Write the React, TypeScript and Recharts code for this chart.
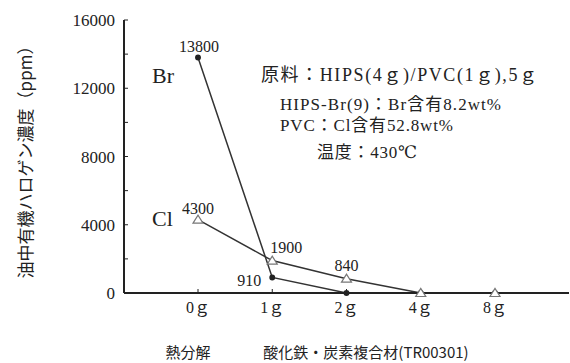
import { LineChart, Line, XAxis, YAxis, LabelList } from "recharts";

const categories = ["0ｇ", "1ｇ", "2ｇ", "4ｇ", "8ｇ"];
const brValues = [13800, 910, 0, 0, 0];
const clValues = [4300, 1900, 840, 0, 0];
const brLabels = ["13800", "910", "", "", ""];
const clLabels = ["4300", "1900", "840", "", ""];
const yTicks = [0, 2000, 4000, 6000, 8000, 10000, 12000, 14000, 16000];
const yLabelTicks = [0, 4000, 8000, 12000, 16000];

const data = categories.map((cat, i) => ({
  cat,
  br: brValues[i],
  cl: clValues[i],
  brLabel: brLabels[i],
  clLabel: clLabels[i],
}));

const SERIF = '"Liberation Serif", "DejaVu Serif", "Noto Sans CJK JP", serif';
const SANS = '"Noto Sans CJK JP", "Noto Sans", sans-serif';
const INK = "#222";

// label nudges relative to the data point
const labelOffsets: Record<string, [number, number]> = {
  "13800": [1, -11],
  "910": [-23, 3],
  "4300": [0, -11],
  "1900": [14, -13],
  "840": [0, -13],
};

const renderLabel = (props: any) => {
  const { x, y, value } = props;
  if (!value) return null;
  const [dx, dy] = labelOffsets[String(value)] || [0, -10];
  return (
    <text
      x={x + dx}
      y={y + dy}
      textAnchor="middle"
      dominantBaseline="central"
      fontFamily={SERIF}
      fontSize={16}
      fill={INK}
    >
      {value}
    </text>
  );
};

const triangleDot = (props: any) => {
  const { cx, cy, index } = props;
  if (cx == null || cy == null) return <g key={`t${index}`} />;
  const w = 5;
  return (
    <path
      key={`t${index}`}
      d={`M${cx - w},${cy + 3.5} L${cx + w},${cy + 3.5} L${cx},${cy - 4.5} Z`}
      fill="#fff"
      stroke="#777"
      strokeWidth={1.2}
    />
  );
};

export default function App() {
  return (
    <div style={{ position: "absolute", left: 0, top: 0, width: 570, height: 363, background: "#fff" }}>
      <LineChart width={570} height={363} data={data} margin={{ top: 20, right: 1, left: 64, bottom: 40 }}>
        <XAxis
          dataKey="cat"
          padding={{ left: 74, right: 74 }}
          height={30}
          tickSize={-4}
          tickMargin={13}
          axisLine={{ stroke: INK, strokeWidth: 2 }}
          tickLine={{ stroke: INK }}
          tick={{ fill: INK, fontSize: 16, fontFamily: SERIF }}
        />
        <XAxis
          xAxisId="top"
          orientation="top"
          dataKey="cat"
          height={0}
          tick={false}
          tickLine={false}
          axisLine={{ stroke: INK, strokeWidth: 1.5 }}
        />
        <YAxis
          domain={[0, 16000]}
          ticks={yTicks}
          interval={0}
          width={60}
          tickSize={-4}
          tickMargin={13}
          tickFormatter={(v: number) => (yLabelTicks.includes(v) ? String(v) : "")}
          axisLine={{ stroke: INK, strokeWidth: 2 }}
          tickLine={{ stroke: INK }}
          tick={{ fill: INK, fontSize: 17, fontFamily: SERIF }}
        />
        <YAxis
          yAxisId="right"
          orientation="right"
          width={0}
          tick={false}
          tickLine={false}
          axisLine={{ stroke: INK, strokeWidth: 1.5 }}
        />
        <Line
          dataKey="br"
          stroke="#333"
          strokeWidth={1.5}
          isAnimationActive={false}
          dot={{ r: 2.2, fill: INK, stroke: INK }}
        >
          <LabelList dataKey="brLabel" content={renderLabel} />
        </Line>
        <Line
          dataKey="cl"
          stroke="#333"
          strokeWidth={1.5}
          isAnimationActive={false}
          dot={triangleDot}
        >
          <LabelList dataKey="clLabel" content={renderLabel} />
        </Line>
      </LineChart>
      <svg
        width={570}
        height={363}
        style={{ position: "absolute", left: 0, top: 0, pointerEvents: "none" }}
      >
        <text x={152} y={75} dominantBaseline="central" fontFamily={SERIF} fontSize={22} fill={INK}>
          Br
        </text>
        <text x={152} y={218} dominantBaseline="central" fontFamily={SERIF} fontSize={22} fill={INK}>
          Cl
        </text>
        <text x={261} y={75} dominantBaseline="central" fontFamily={SERIF} fontSize={18} fill={INK}
          textLength={276} lengthAdjust="spacing">
          原料：HIPS(4ｇ)/PVC(1ｇ),5ｇ
        </text>
        <text x={280} y={104} dominantBaseline="central" fontFamily={SERIF} fontSize={17} fill={INK}
          textLength={221} lengthAdjust="spacing">
          HIPS-Br(9)：Br含有8.2wt%
        </text>
        <text x={280} y={125} dominantBaseline="central" fontFamily={SERIF} fontSize={17} fill={INK}
          textLength={173} lengthAdjust="spacing">
          PVC：Cl含有52.8wt%
        </text>
        <text x={317} y={152} dominantBaseline="central" fontFamily={SERIF} fontSize={17} fill={INK}
          textLength={100} lengthAdjust="spacing">
          温度：430℃
        </text>
        <text
          transform="translate(24,158) rotate(-90)"
          textAnchor="middle"
          dominantBaseline="central"
          fontFamily={SANS}
          fontSize={17}
          fill={INK}
        >
          油中有機ハロゲン濃度（ppm）
        </text>
        <text x={188} y={351} textAnchor="middle" dominantBaseline="central" fontFamily={SANS} fontSize={15} fill={INK}>
          熱分解
        </text>
        <text x={366} y={351} textAnchor="middle" dominantBaseline="central" fontFamily={SANS} fontSize={15} fill={INK}>
          酸化鉄・炭素複合材(TR00301)
        </text>
      </svg>
    </div>
  );
}
